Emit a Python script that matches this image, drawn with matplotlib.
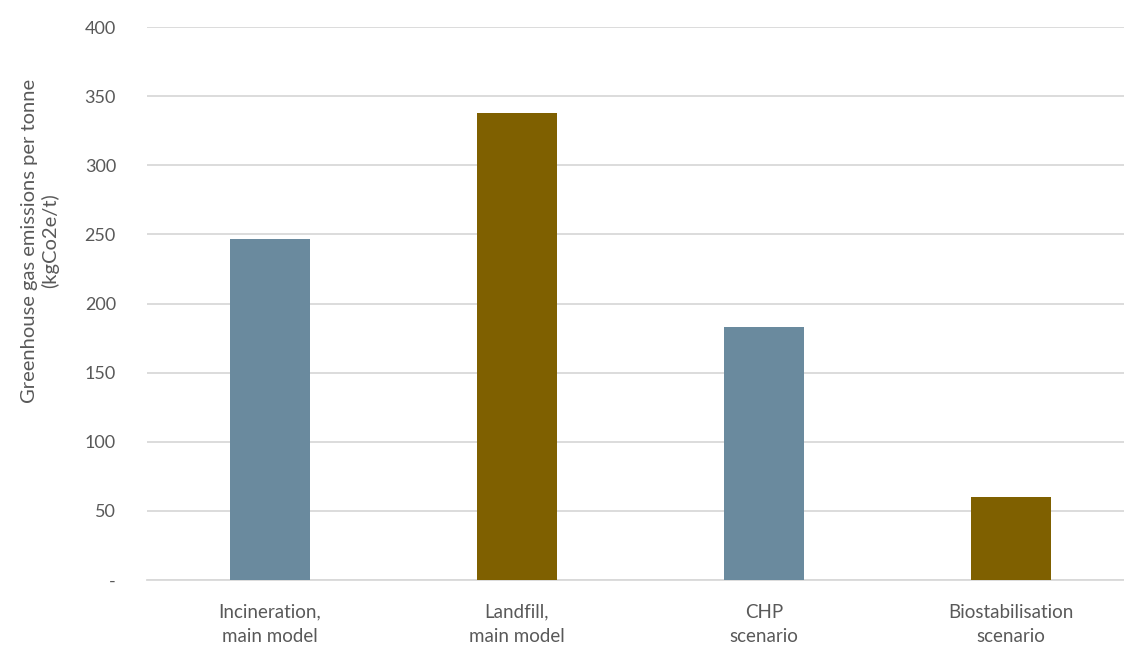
import matplotlib.pyplot as plt

categories = ["Incineration,\nmain model", "Landfill,\nmain model", "CHP\nscenario", "Biostabilisation\nscenario"]
values = [247, 338, 183, 60]
colors = ["#6A8A9E", "#7F6000", "#6A8A9E", "#7F6000"]
yticks = [0, 50, 100, 150, 200, 250, 300, 350, 400]
ytick_labels = ["-", "50", "100", "150", "200", "250", "300", "350", "400"]

plt.rcParams["font.family"] = ["Lato", "DejaVu Sans"]
text_color = "#595959"

fig = plt.figure(figsize=(11.24, 6.5), dpi=100)
# the original chart is cropped on the right, so the plot area runs past the edge
ax = fig.add_axes([146.5 / 1124, 70 / 650, 988 / 1124, 553 / 650])

x = range(len(categories))
ax.bar(x, values, width=0.324, color=colors, zorder=3)

ax.set_xlim(-0.5, len(categories) - 0.5)
ax.set_ylim(0, 400)
ax.set_yticks(yticks)
ax.set_yticklabels(ytick_labels)
ax.set_xticks(list(x))
ax.set_xticklabels(categories, linespacing=1.55)

ax.grid(axis="y", color="#D9D9D9", linewidth=1.3, zorder=0)
for s in ["top", "right", "left"]:
    ax.spines[s].set_visible(False)
ax.spines["bottom"].set_color("#D9D9D9")
ax.spines["bottom"].set_linewidth(1.3)

ax.tick_params(axis="y", length=0, pad=22, labelsize=13, labelcolor=text_color)
ax.tick_params(axis="x", length=0, pad=17, labelsize=13.5, labelcolor=text_color)

fig.text(0.036, 0.63, "Greenhouse gas emissions per tonne\n(kgCo2e/t)", rotation=90,
         ha="center", va="center", fontsize=14.5, color=text_color, linespacing=1.2)

fig.savefig("out.png", dpi=100)
plt.close(fig)
